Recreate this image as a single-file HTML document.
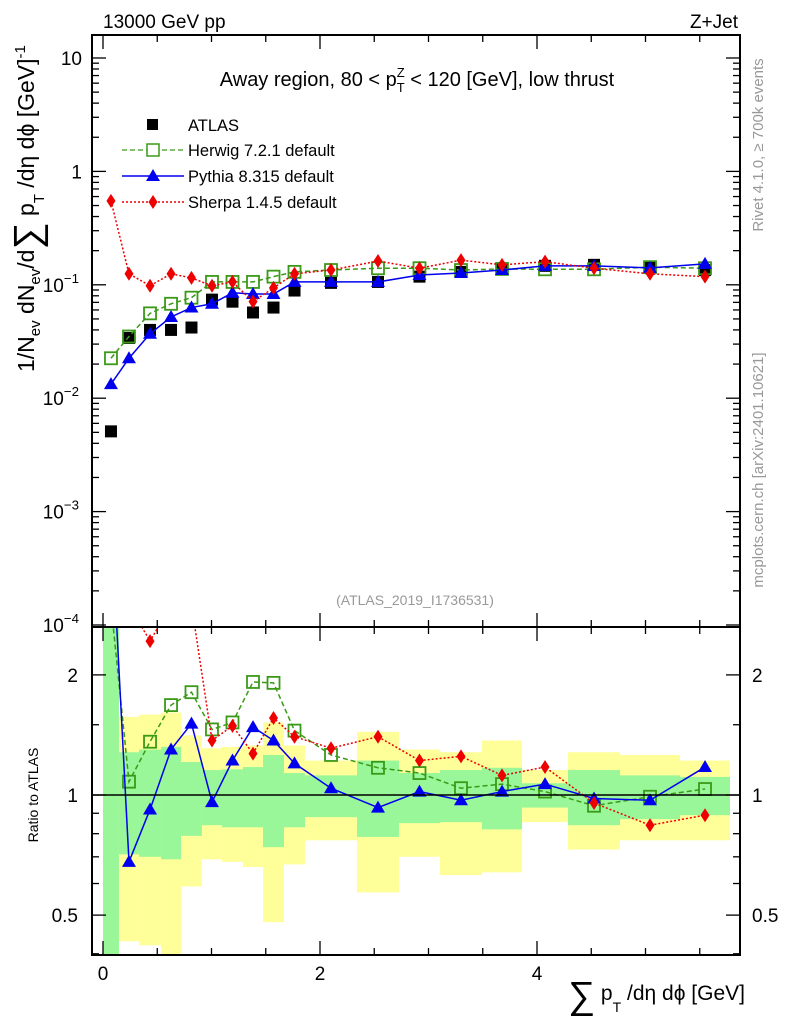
<!DOCTYPE html>
<html><head><meta charset="utf-8"><style>
html,body{margin:0;padding:0;background:#fff;}
svg{display:block;font-family:"Liberation Sans",sans-serif;}
</style></head><body>
<svg id="c" width="786" height="1024" viewBox="0 0 786 1024" xmlns="http://www.w3.org/2000/svg">
<defs>
<clipPath id="clipMain"><rect x="92" y="35" width="648" height="592"/></clipPath>
<clipPath id="clipRatio"><rect x="92" y="627" width="648" height="328"/></clipPath>
</defs>
<g id="bands" clip-path="url(#clipRatio)"></g>
<g id="ticks"></g>
<g id="series-main" clip-path="url(#clipMain)"></g>
<g id="series-ratio" clip-path="url(#clipRatio)"></g>
<rect x="92" y="35" width="648" height="592" fill="none" stroke="#000" stroke-width="2"/>
<rect x="92" y="627" width="648" height="328" fill="none" stroke="#000" stroke-width="2"/>
<line x1="92" y1="795" x2="740" y2="795" stroke="#000" stroke-width="1.5"/>
<text x="103" y="28" font-size="19">13000 GeV pp</text>
<text x="738" y="28" font-size="19" text-anchor="end">Z+Jet</text>
<text x="417" y="86" font-size="20" text-anchor="middle">Away region, 80 &lt; p<tspan font-size="13" dy="6">T</tspan><tspan font-size="13" dx="-8" dy="-15">Z</tspan><tspan dy="9"> &lt; 120 [GeV], low thrust</tspan></text>
<g>
<rect x="147" y="119" width="11" height="11" fill="#000"/>
<text x="188" y="131" font-size="16.5">ATLAS</text>
<line x1="122" y1="150" x2="184" y2="150" stroke="#3a9a17" stroke-width="1.3" stroke-dasharray="5,3"/>
<rect x="147" y="144" width="12" height="12" fill="#fff" stroke="#3a9a17" stroke-width="1.5"/>
<text x="188" y="156" font-size="16.5">Herwig 7.2.1 default</text>
<line x1="122" y1="176" x2="184" y2="176" stroke="#0000ee" stroke-width="1.5"/>
<polygon points="153,169 160,181 146,181" fill="#0000ee"/>
<text x="188" y="182" font-size="16.5">Pythia 8.315 default</text>
<line x1="122" y1="202" x2="184" y2="202" stroke="#ee0000" stroke-width="1.5" stroke-dasharray="2,2"/>
<polygon points="153,195 157.5,202 153,209 148.5,202" fill="#ee0000"/>
<text x="188" y="208" font-size="16.5">Sherpa 1.4.5 default</text>
</g>
<text x="415" y="605" font-size="14" fill="#999" text-anchor="middle">(ATLAS_2019_I1736531)</text>
<text transform="translate(763,145) rotate(-90)" font-size="15" fill="#999" text-anchor="middle">Rivet 4.1.0, ≥ 700k events</text>
<text transform="translate(763,470) rotate(-90)" font-size="15" fill="#999" text-anchor="middle">mcplots.cern.ch [arXiv:2401.10621]</text>
<text transform="translate(34,372) rotate(-90)" font-size="23">1/N<tspan font-size="15" dy="6">ev</tspan><tspan dy="-6"> dN</tspan><tspan font-size="15" dy="6">ev</tspan><tspan dy="-6">/d</tspan><tspan font-size="38" dy="6">∑</tspan><tspan dy="-6"> p</tspan><tspan font-size="15" dy="10">T</tspan><tspan dy="-10"> /dη dϕ  [GeV]</tspan><tspan font-size="15" dy="-9">-1</tspan></text>
<text transform="translate(38,795) rotate(-90)" font-size="14" text-anchor="middle">Ratio to ATLAS</text>
<text x="745" y="1000" font-size="21" text-anchor="end"><tspan font-size="38" dy="8">∑</tspan><tspan dy="-8"> p</tspan><tspan font-size="14" dy="12">T</tspan><tspan dy="-12"> /dη dϕ [GeV]</tspan></text>
</svg>
<script>
const binEdges=[0,0.147,0.332,0.535,0.719,0.912,1.097,1.290,1.475,1.668,1.862,2.341,2.728,3.106,3.493,3.862,4.286,4.765,5.318,5.779];
const atlas=[0.0051,0.034,0.040,0.040,0.042,0.074,0.071,0.057,0.063,0.089,0.104,0.106,0.118,0.13,0.14,0.147,0.15,0.144,0.135];
const herwig=[0.0225,0.035,0.056,0.068,0.077,0.106,0.106,0.106,0.118,0.13,0.135,0.14,0.14,0.135,0.138,0.137,0.137,0.143,0.14];
const pythia=[0.0133,0.0225,0.037,0.052,0.063,0.068,0.085,0.083,0.083,0.106,0.106,0.106,0.122,0.127,0.135,0.147,0.147,0.141,0.153];
const sherpa=[0.55,0.125,0.098,0.125,0.115,0.098,0.106,0.071,0.094,0.125,0.135,0.162,0.14,0.165,0.15,0.16,0.14,0.125,0.118];
const ratioHerwig=[3.0,1.08,1.36,1.68,1.81,1.46,1.52,1.92,1.91,1.45,1.26,1.17,1.135,1.04,1.065,1.02,0.94,0.99,1.035];
const ratioPythia=[5.0,0.68,0.92,1.30,1.51,0.96,1.22,1.48,1.37,1.20,1.04,0.93,1.02,0.97,1.02,1.065,0.98,0.97,1.175];
const ratioSherpa=[5.0,3.0,2.43,3.0,3.0,1.37,1.49,1.27,1.56,1.40,1.31,1.40,1.22,1.25,1.12,1.175,0.955,0.84,0.89];
const yellowHi=[3,1.57,1.59,1.61,1.41,1.31,1.32,1.33,1.52,1.33,1.22,1.44,1.30,1.28,1.37,1.155,1.28,1.26,1.22];
const greenHi=[3,1.28,1.30,1.32,1.21,1.155,1.16,1.175,1.26,1.135,1.12,1.22,1.135,1.155,1.17,1.07,1.155,1.12,1.11];
const greenLo=[0.3,0.71,0.70,0.69,0.79,0.84,0.83,0.83,0.74,0.83,0.88,0.785,0.85,0.855,0.82,0.93,0.84,0.87,0.89];
const yellowLo=[0.3,0.43,0.42,0.3,0.59,0.69,0.68,0.66,0.48,0.67,0.77,0.57,0.70,0.63,0.64,0.855,0.73,0.77,0.77];
const xTicks=[0,2,4];
const yMainTicks=[10,1,0.1,0.01,0.001,0.0001];
const yMainLabels=["10","1","10|-1","10|-2","10|-3","10|-4"];
const yRatioTicks=[2,1,0.5];
const yRatioLabels=["2","1","0.5"];

const NS="http://www.w3.org/2000/svg";
const X=v=>103+108.5*v;
const Y=v=>58+113.4*(1-Math.log10(v));
const R=v=>795-399*Math.log10(v);
function mk(tag,attrs,parent){const e=document.createElementNS(NS,tag);for(const k in attrs)e.setAttribute(k,attrs[k]);parent.appendChild(e);return e;}
const centers=binEdges.slice(0,-1).map((e,i)=>(e+binEdges[i+1])/2);

const bands=document.getElementById('bands');
for(let i=0;i<centers.length;i++){
  const x0=X(binEdges[i]),x1=X(binEdges[i+1]);
  const y=mk('rect',{x:x0,y:R(yellowHi[i]),width:x1-x0,height:R(yellowLo[i])-R(yellowHi[i]),fill:'#ffff99'},bands);
  
  
  const g=mk('rect',{x:x0,y:R(greenHi[i]),width:x1-x0,height:R(greenLo[i])-R(greenHi[i]),fill:'#99f799'},bands);
  
  
}

const tk=document.getElementById('ticks');
function tline(x1,y1,x2,y2){mk('line',{x1:x1,y1:y1,x2:x2,y2:y2,stroke:'#000','stroke-width':1.3},tk);}
function ttext(x,y,s,anchor,size){
  const parts=s.split('|');
  const t=mk('text',{x:x,y:y,'font-size':size,'text-anchor':anchor},tk);
  t.textContent=parts[0];
  if(parts[1]){const sp=mk('tspan',{'font-size':size*0.7,dy:-9},t);sp.textContent=parts[1].replace('-','\u2212');}
  
  
}
for(let d=-4;d<=1;d++){
  for(let m=1;m<10;m++){
    const v=m*Math.pow(10,d);const y=Y(v);
    if(y<35||y>627)continue;
    const L=m===1?14:7;
    tline(92,y,92+L,y);tline(740,y,740-L,y);
  }
}
yMainTicks.forEach((v,i)=>{const l=yMainLabels[i];ttext(l.includes('|')?79:82,Y(v)+7,l,'end',19);});
[0.4,0.5,0.6,0.7,0.8,0.9,1,1.5,2].forEach(v=>{const y=R(v);const L=(v===1||v===2||v===0.5)?14:7;tline(92,y,92+L,y);tline(740,y,740-L,y);});
yRatioTicks.forEach((v,i)=>{ttext(78,R(v)+7,yRatioLabels[i],'end',19);ttext(752,R(v)+7,yRatioLabels[i],'start',19);});
for(let k=0;k<=11;k++){
  const v=k*0.5;
  const x=X(v);const L=(k%4===0)?14:7;
  tline(x,627,x,627+L);tline(x,35,x,35+L);tline(x,955,x,955-L);tline(x,627,x,627-L);
}
xTicks.forEach(v=>ttext(X(v),980,String(v),'middle',19));

function drawSeries(parent,vals,yf,color,dash,marker,name){
  const pts=vals.map((v,i)=>[X(centers[i]),yf(v)]);
  if(color){
    const pl=mk('polyline',{points:pts.map(p=>p.join(',')).join(' '),fill:'none',stroke:color,'stroke-width':1.5,'stroke-dasharray':dash||'none'},parent);
    
    
  }
  pts.forEach((p,i)=>{
    let e;const x=p[0],y=p[1];
    if(marker==='sq') e=mk('rect',{x:x-6,y:y-6,width:12,height:12,fill:'#000'},parent);
    else if(marker==='osq') e=mk('rect',{x:x-6,y:y-6,width:12,height:12,fill:'none',stroke:color,'stroke-width':1.8},parent);
    else if(marker==='tri') e=mk('polygon',{points:x+','+(y-7)+' '+(x+7)+','+(y+5)+' '+(x-7)+','+(y+5),fill:color},parent);
    else e=mk('polygon',{points:x+','+(y-7)+' '+(x+4.5)+','+y+' '+x+','+(y+7)+' '+(x-4.5)+','+y,fill:color},parent);
    
    
  });
}
const sm=document.getElementById('series-main');
drawSeries(sm,atlas,Y,null,'','sq','atlas');
drawSeries(sm,herwig,Y,'#3a9a17','5,3','osq','herwig');
drawSeries(sm,pythia,Y,'#0000ee','','tri','pythia');
drawSeries(sm,sherpa,Y,'#ee0000','2,2','dia','sherpa');
const sr=document.getElementById('series-ratio');
drawSeries(sr,ratioHerwig,R,'#3a9a17','5,3','osq','herwig-ratio');
drawSeries(sr,ratioPythia,R,'#0000ee','','tri','pythia-ratio');
drawSeries(sr,ratioSherpa,R,'#ee0000','2,2','dia','sherpa-ratio');
</script>
</body></html>
